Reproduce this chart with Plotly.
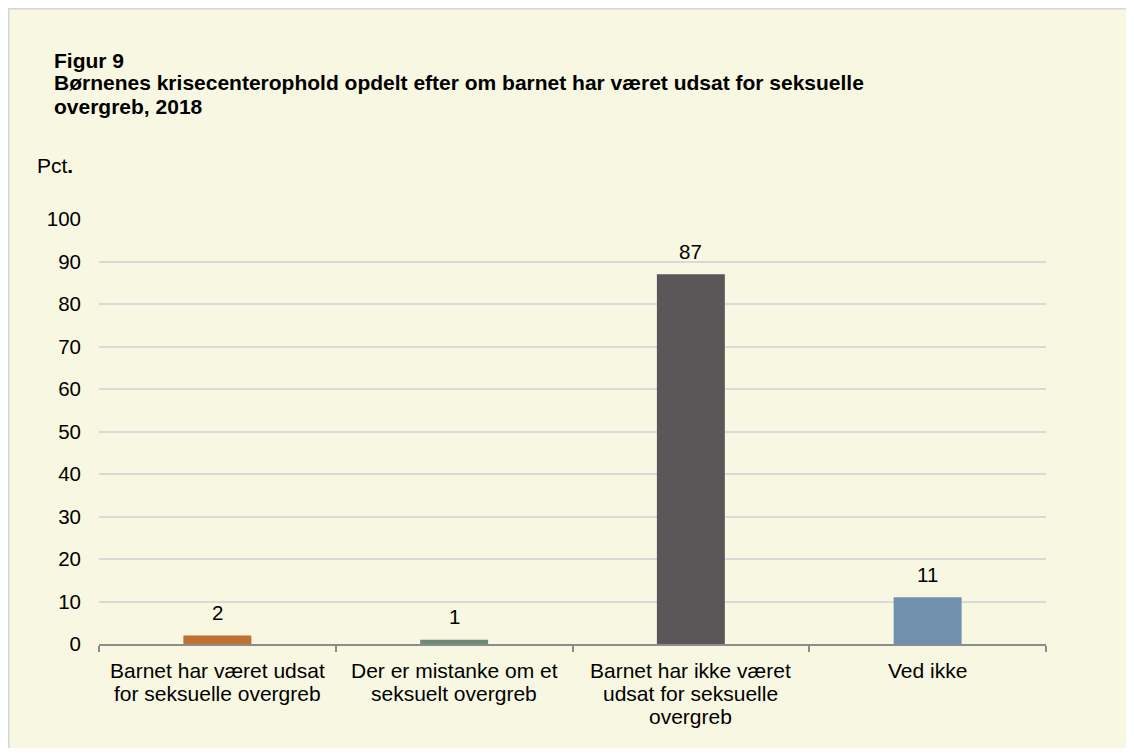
import plotly.graph_objects as go

categories = [
    "Barnet har været udsat for seksuelle overgreb",
    "Der er mistanke om et seksuelt overgreb",
    "Barnet har ikke været udsat for seksuelle overgreb",
    "Ved ikke",
]
category_lines = [
    ["Barnet har været udsat", "for seksuelle overgreb"],
    ["Der er mistanke om et", "seksuelt overgreb"],
    ["Barnet har ikke været", "udsat for seksuelle", "overgreb"],
    ["Ved ikke"],
]
values = [2, 1, 87, 11]
colors = ["#C0702F", "#6E8B78", "#5B5758", "#7090AE"]
title_lines = [
    "Figur 9",
    "Børnenes krisecenterophold opdelt efter om barnet har været udsat for seksuelle",
    "overgreb, 2018",
]

# the page body adds an 8px margin; figure sized so no scrollbars appear
W, H = 1118, 740
L, R, T, B = 91, 80, 211, 104
pw, ph = W - L - R, H - T - B


def px_x(p):
    return (p - L) / pw


def px_y(p):
    return 1 - (p - T) / ph


FONT = "Liberation Sans, Arial, sans-serif"
FS = 21

fig = go.Figure(go.Bar(
    x=categories, y=values, marker_color=colors, marker_line_width=0,
    width=0.287, hoverinfo="x+y",
))

annotations = []
for i, line in enumerate(title_lines):
    annotations.append(dict(
        text="<b>%s</b>" % line, xref="paper", yref="paper",
        x=px_x(44), y=px_y(52 + 23 * i), xanchor="left", yanchor="middle",
        showarrow=False, font=dict(size=FS, color="#000000", family=FONT)))
annotations.append(dict(
    text="Pct<b>.</b>", xref="paper", yref="paper", x=px_x(27), y=px_y(158),
    xanchor="left", yanchor="middle", showarrow=False,
    font=dict(size=FS, color="#000000", family=FONT)))
for cat, lines in zip(categories, category_lines):
    for j, line in enumerate(lines):
        annotations.append(dict(
            text=line, xref="x", yref="paper", x=cat, y=px_y(662 + 23 * j),
            xanchor="center", yanchor="middle", showarrow=False,
            font=dict(size=FS, color="#000000", family=FONT)))
for cat, v in zip(categories, values):
    annotations.append(dict(
        text=str(v), xref="x", yref="y", x=cat, y=v, yshift=23,
        xanchor="center", yanchor="middle", showarrow=False,
        font=dict(size=20.5, color="#000000", family=FONT)))

fig.update_layout(
    width=W, height=H,
    margin=dict(l=L, r=R, t=T, b=B, pad=0),
    paper_bgcolor="#F8F7E1",
    plot_bgcolor="rgba(0,0,0,0)",
    font=dict(family=FONT, size=FS, color="#000000"),
    showlegend=False,
    xaxis=dict(
        showline=True, linecolor="#8C8C8C", linewidth=1.5,
        ticks="outside", tickson="boundaries", ticklen=6, tickcolor="#8C8C8C",
        tickwidth=1.5, showticklabels=False, showgrid=False,
    ),
    yaxis=dict(
        range=[0, 100], dtick=10, showgrid=True, gridcolor="#D9D9D9", gridwidth=1.5,
        tickfont=dict(size=20.5, color="#000000"), ticks="", zeroline=False,
        showline=False, ticklabelstandoff=17,
    ),
    shapes=[
        dict(type="line", xref="paper", yref="paper", layer="below",
             x0=px_x(0), x1=px_x(W + 20), y0=px_y(0.5), y1=px_y(0.5),
             line=dict(color="#D6D6D6", width=2)),
        dict(type="line", xref="paper", yref="paper", layer="below",
             x0=px_x(0.5), x1=px_x(0.5), y0=px_y(0), y1=px_y(H + 20),
             line=dict(color="#D6D6D6", width=2)),
    ],
    annotations=annotations,
)

fig.write_html("out.html")
